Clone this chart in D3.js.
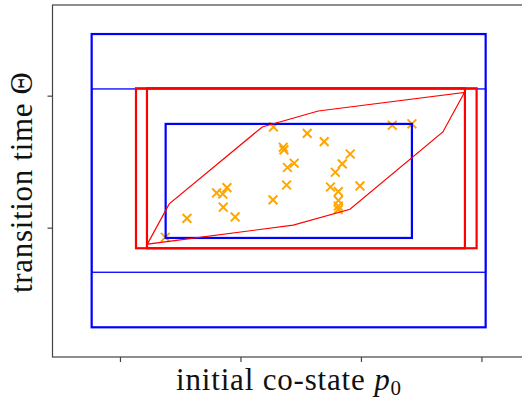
<!DOCTYPE html>
<html>
<head>
<meta charset="utf-8">
<script src="https://cdn.jsdelivr.net/npm/d3@7"></script>
<style>
  html, body { margin: 0; padding: 0; background: #fff; }
  svg { display: block; }
  .lbl { font-family: "Liberation Serif", "DejaVu Serif", serif; fill: #111; }
</style>
</head>
<body>
<svg id="chart" width="522" height="400"></svg>
<script>
// Tick positions (unlabelled) on each axis
const xTicks = [1, 2, 3, 4];
const yTicks = [1, 2];

// Outer and middle blue boxes [x0, x1, y0, y1]
const blueOuter = [0.765, 4.035, 0.245, 2.467];
const blueMiddle = [0.765, 4.035, 0.662, 2.051];
const blueInner = [1.379, 3.423, 0.922, 1.786];

// Red boxes [x0, x1, y0, y1]
const redOuter = [1.133, 3.960, 0.844, 2.056];
const redInner = [1.224, 3.863, 0.844, 2.056];

// Red enclosing polygon (p0, Θ)
const hullP = [1.227, 1.409, 2.181, 2.646, 3.859, 3.680, 2.909, 2.438];
const hullT = [0.875, 1.180, 1.763, 1.884, 2.024, 1.725, 1.139, 1.019];

// Sampled points (p0, Θ)
const sampleP = [2.274, 2.554, 2.695, 2.355, 2.361, 2.446, 2.390, 2.911, 2.845, 2.787,
                 2.383, 2.270, 2.747, 2.812, 2.992, 2.813, 2.812, 2.812, 3.260, 3.423,
                 1.888, 1.802, 1.853, 1.857, 1.956, 1.556, 1.376];
const sampleT = [1.763, 1.714, 1.652, 1.609, 1.589, 1.488, 1.456, 1.558, 1.483, 1.420,
                 1.323, 1.210, 1.308, 1.273, 1.316, 1.206, 1.164, 1.138, 1.776, 1.787,
                 1.303, 1.263, 1.255, 1.155, 1.081, 1.070, 0.927];

const svg = d3.select("#chart");
const plotL = 52.5, plotR = 523, plotT = 5, plotB = 357;

const x = d3.scaleLinear().domain([0.44, 4.345]).range([plotL, plotR]);
const y = d3.scaleLinear().domain([0.02, 2.687]).range([plotB, plotT]);

// Axes frame
svg.append("rect")
  .attr("x", plotL).attr("y", plotT)
  .attr("width", plotR - plotL).attr("height", plotB - plotT)
  .attr("fill", "none").attr("stroke", "#444").attr("stroke-width", 1.2);

const xAxis = d3.axisBottom(x).tickValues(xTicks).tickFormat("").tickSize(5).tickSizeOuter(0);
const yAxis = d3.axisLeft(y).tickValues(yTicks).tickFormat("").tickSize(5).tickSizeOuter(0);
const gx = svg.append("g").attr("transform", `translate(0,${plotB})`).call(xAxis);
const gy = svg.append("g").attr("transform", `translate(${plotL},0)`).call(yAxis);
[gx, gy].forEach(g => {
  g.select(".domain").remove();
  g.selectAll(".tick line").attr("stroke", "#444").attr("stroke-width", 1.2);
});

// Sample markers
const cross = d3.symbol().type(d3.symbolX).size(52);
svg.append("g").selectAll("path")
  .data(sampleP.map((p, i) => [p, sampleT[i]]))
  .join("path")
  .attr("transform", d => `translate(${x(d[0])},${y(d[1])})`)
  .attr("d", cross)
  .attr("fill", "none")
  .attr("stroke", "#ffa500")
  .attr("stroke-width", 2);

// Boxes
function box(b, color, w) {
  svg.append("rect")
    .attr("x", x(b[0])).attr("y", y(b[3]))
    .attr("width", x(b[1]) - x(b[0])).attr("height", y(b[2]) - y(b[3]))
    .attr("fill", "none").attr("stroke", color).attr("stroke-width", w);
}
box(blueOuter, "#0000ff", 2.2);
box(blueMiddle, "#0000ff", 1.3);
box(blueInner, "#0000ff", 2.2);
box(redOuter, "#ff0000", 2.2);
box(redInner, "#ff0000", 2.2);

// Enclosing polygon
svg.append("path")
  .datum(hullP.map((p, i) => [p, hullT[i]]))
  .attr("d", d3.line().x(d => x(d[0])).y(d => y(d[1])).curve(d3.curveLinearClosed))
  .attr("fill", "none").attr("stroke", "#ff0000").attr("stroke-width", 1.2);

// Axis labels
const xl = svg.append("text").attr("class", "lbl")
  .attr("x", 288.5).attr("y", 390).attr("text-anchor", "middle")
  .attr("font-size", 31)
  .attr("textLength", 225).attr("lengthAdjust", "spacing");
xl.append("tspan").text("initial co-state ");
xl.append("tspan").attr("font-style", "italic").text("p");
xl.append("tspan").attr("font-size", 21).attr("dy", 5).text("0");

svg.append("text").attr("class", "lbl")
  .attr("transform", `translate(32,182.5) rotate(-90)`)
  .attr("text-anchor", "middle")
  .attr("font-size", 31)
  .attr("textLength", 221).attr("lengthAdjust", "spacing")
  .text("transition time Θ");
</script>
</body>
</html>
